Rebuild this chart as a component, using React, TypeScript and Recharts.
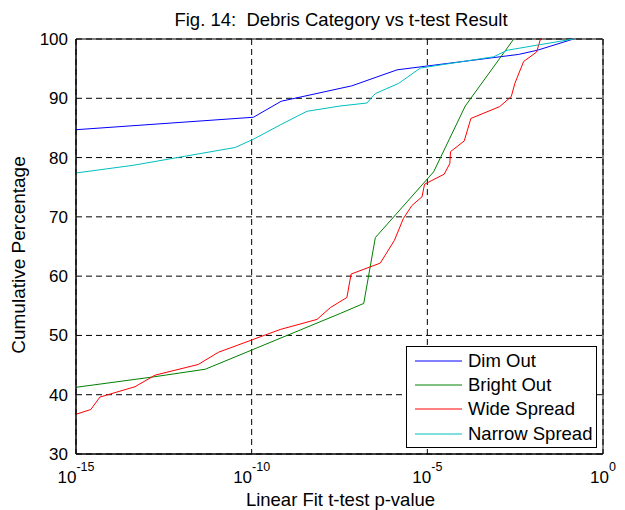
import React from "react";
import {
  LineChart,
  Line,
  XAxis,
  YAxis,
  CartesianGrid,
  Legend,
  ReferenceArea,
  Label,
} from "recharts";

const FONT = '"Liberation Sans", Arial, Helvetica, sans-serif';

// x values are read as log10(p-value), y as cumulative percentage
const dimOutExp = [-15, -9.95, -9.16, -7.15, -5.86, -2.4, -1.87, -0.84];
const dimOutPct = [84.7, 86.8, 89.5, 92.1, 94.8, 97.4, 98.1, 100];

const brightOutExp = [-15, -12.8, -11.32, -7.48, -6.81, -6.48, -4.82, -3.92, -2.54];
const brightOutPct = [41.25, 43.0, 44.3, 53.7, 55.4, 66.5, 77.6, 88.7, 100];

const wideSpreadExp = [
  -15, -14.58, -14.32, -13.32, -12.75, -11.52, -10.95, -9.19, -8.14, -7.76, -7.29,
  -7.17, -6.34, -5.94, -5.68, -5.44, -5.15, -5.08, -4.52, -4.36, -4.34, -3.95,
  -3.76, -2.94, -2.61, -2.51, -2.26, -1.89, -1.78,
];
const wideSpreadPct = [
  36.7, 37.5, 39.6, 41.35, 43.3, 45.1, 47.15, 51.0, 52.7, 54.7, 56.4, 60.35, 62.2,
  66.0, 69.75, 71.9, 73.4, 75.5, 77.2, 79.0, 81.0, 82.8, 86.6, 88.6, 90.3, 92.5,
  96.2, 97.8, 100,
];

const narrowSpreadExp = [
  -15, -13.37, -10.47, -9.95, -9.19, -8.43, -7.48, -6.72, -6.48, -5.82, -5.2, -3.11,
  -2.73, -0.84,
];
const narrowSpreadPct = [
  77.4, 78.7, 81.7, 83.1, 85.5, 87.8, 88.7, 89.2, 90.8, 92.5, 95.1, 97.0, 98.1, 100,
];

const xTickExps = [-15, -10, -5, 0];
const yTicks = [30, 40, 50, 60, 70, 80, 90, 100];

const toPoints = (exps: number[], pcts: number[]) =>
  exps.map((e, i) => ({ p: Math.pow(10, e), pct: pcts[i] }));

const series = [
  { name: "Dim Out", color: "#0000ff", data: toPoints(dimOutExp, dimOutPct) },
  { name: "Bright Out", color: "#008000", data: toPoints(brightOutExp, brightOutPct) },
  { name: "Wide Spread", color: "#ff0000", data: toPoints(wideSpreadExp, wideSpreadPct) },
  { name: "Narrow Spread", color: "#00bfbf", data: toPoints(narrowSpreadExp, narrowSpreadPct) },
];

const xTicks = xTickExps.map((e) => Math.pow(10, e));

function PowerTick({ x, y, payload }: any) {
  const exp = Math.round(Math.log10(payload.value));
  return (
    <text x={x} y={y + 21} textAnchor="middle" fontFamily={FONT} fontSize={17} fill="#000">
      <tspan>10</tspan>
      <tspan dy={-12.5} fontSize={12.5}>
        {exp}
      </tspan>
    </text>
  );
}

function LegendBox() {
  return (
    <div
      style={{
        width: 191,
        height: 102,
        boxSizing: "border-box",
        border: "1px solid #000",
        background: "#fff",
        paddingTop: 2,
        fontFamily: FONT,
        fontSize: 18.5,
        color: "#000",
      }}
    >
      {series.map((s) => (
        <div key={s.name} style={{ display: "flex", alignItems: "center", height: 24.2 }}>
          <svg width={47} height={4} style={{ marginLeft: 8, marginRight: 6 }}>
            <line x1={0} y1={2} x2={47} y2={2} stroke={s.color} strokeWidth={1} />
          </svg>
          <span style={{ whiteSpace: "nowrap" }}>{s.name}</span>
        </div>
      ))}
    </div>
  );
}

export default function App() {
  return (
    <div
      style={{
        position: "absolute",
        left: 0,
        top: 0,
        width: 625,
        height: 510,
        background: "#fff",
      }}
    >
      <div
        style={{
          position: "absolute",
          left: 0,
          width: 682,
          top: 9,
          textAlign: "center",
          fontFamily: FONT,
          fontSize: 18.5,
          whiteSpace: "pre",
          color: "#000",
        }}
      >
        {"Fig. 14:  Debris Category vs t-test Result"}
      </div>
      <LineChart
        width={625}
        height={510}
        margin={{ top: 39, right: 22, bottom: 26, left: 0 }}
      >
        <CartesianGrid stroke="#000" strokeDasharray="6 4" />
        <XAxis
          dataKey="p"
          type="number"
          scale="log"
          domain={[1e-15, 1]}
          ticks={xTicks}
          allowDataOverflow
          height={30}
          axisLine={{ stroke: "#000" }}
          tickLine={false}
          tick={<PowerTick />}
          interval={0}
        >
          <Label
            content={() => (
              <text
                x={340.5}
                y={506}
                textAnchor="middle"
                fontFamily={FONT}
                fontSize={18.5}
                fill="#000"
              >
                Linear Fit t-test p-value
              </text>
            )}
          />
        </XAxis>
        <YAxis
          type="number"
          domain={[30, 100]}
          ticks={yTicks}
          width={76}
          interval={0}
          axisLine={{ stroke: "#000" }}
          tickLine={false}
          tick={{ fill: "#000", fontSize: 17, fontFamily: FONT }}
        >
          <Label
            content={() => (
              <text
                x={25}
                y={255}
                transform="rotate(-90, 25, 255)"
                textAnchor="middle"
                fontFamily={FONT}
                fontSize={19}
                fill="#000"
              >
                Cumulative Percentage
              </text>
            )}
          />
        </YAxis>
        <ReferenceArea
          x1={1e-15}
          x2={1}
          y1={30}
          y2={100}
          fill="none"
          fillOpacity={0}
          stroke="#000"
          strokeWidth={1}
          ifOverflow="visible"
        />
        {series.map((s) => (
          <Line
            key={s.name}
            data={s.data}
            dataKey="pct"
            name={s.name}
            type="linear"
            stroke={s.color}
            strokeWidth={1}
            dot={false}
            activeDot={false}
            isAnimationActive={false}
          />
        ))}
        <Legend
          layout="vertical"
          align="center"
          verticalAlign="middle"
          content={<LegendBox />}
          wrapperStyle={{ left: 406, top: 346, width: 191, height: 102 }}
        />
      </LineChart>
    </div>
  );
}
